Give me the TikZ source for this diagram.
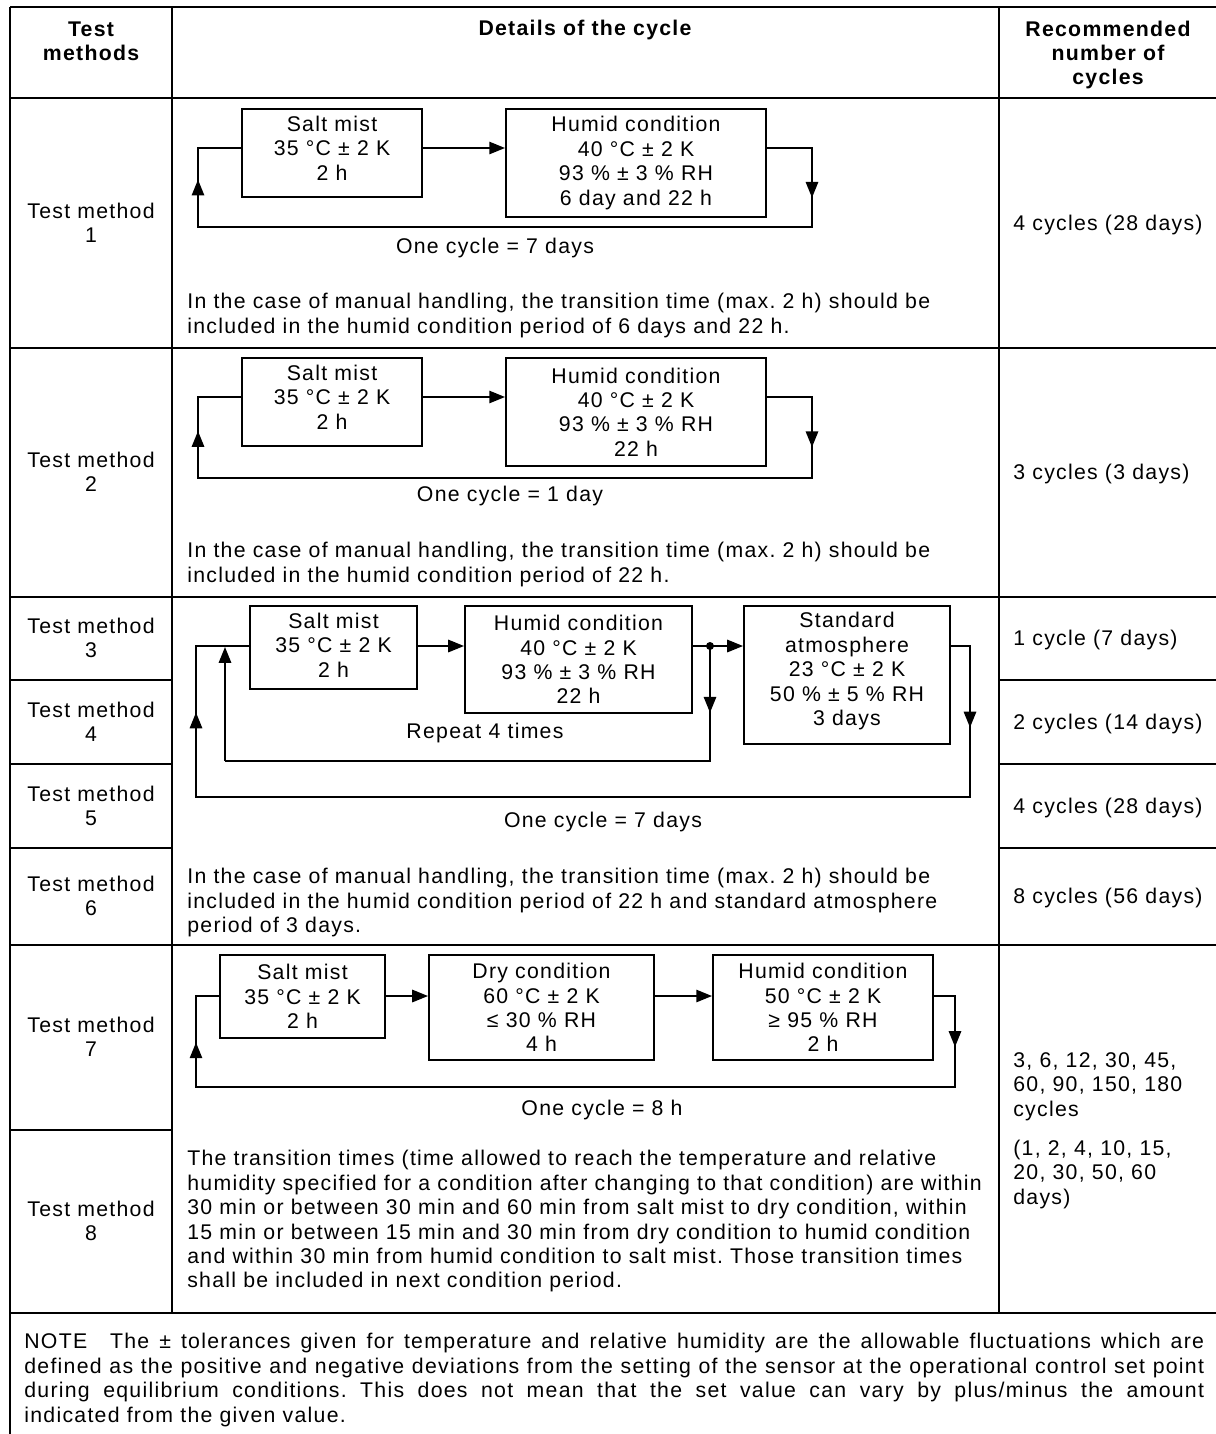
\documentclass[tikz,border=0pt]{standalone}
\usepackage{fontspec}
\setmainfont{Liberation Sans}[LetterSpace=6]
\usetikzlibrary{arrows.meta,calc}
\newcommand{\cellfont}{\fontsize{12.1}{13.9}\selectfont\frenchspacing}
\tikzset{
	rule/.style={line width=1.4pt},
	thinrule/.style={line width=1pt},
	wire/.style={line width=1.1pt},
	flow/.style={line width=1.1pt, -{Triangle[length=9pt,width=7pt]}},
	stage/.style={draw, line width=1.1pt, align=center, inner sep=0pt},
	head/.style={font=\cellfont\bfseries, align=center},
	note/.style={anchor=north west, align=left, inner sep=0pt},
}
\begin{document}
\begin{tikzpicture}[x=0.02cm, y=-0.02cm, font=\cellfont]
	\useasboundingbox[fill=white] (0,0) rectangle (1216,1434);
	% table
	\draw[rule] (10,7) -- (1216,7);
	\draw[rule] (10,7) -- (10,1434);
	\draw[rule] (172,7) -- (172,1313);
	\draw[rule] (999,7) -- (999,1313);
	\foreach \y in {98,348,597,945,1313}
		\draw[rule] (10,\y) -- (1216,\y);
	\foreach \y in {680,764,848} {
		\draw[thinrule] (10,\y) -- (172,\y);
		\draw[thinrule] (999,\y) -- (1216,\y);
	}
	\draw[thinrule] (10,1130) -- (172,1130);
	% header
	\node[head] (hmeth) at (91,41) {Test\\methods};
	\node[head] (hcyc) at (585,30) {Details of the cycle};
	\node[head] (hnum) at (1108,55) {Recommended\\number of\\cycles};
	% test methods
	\node[align=center] (m1) at (91,223) {Test method\\1};
	\node[align=center] (m2) at (91,472) {Test method\\2};
	\node[align=center] (m3) at (91,638) {Test method\\3};
	\node[align=center] (m4) at (91,722) {Test method\\4};
	\node[align=center] (m5) at (91,806) {Test method\\5};
	\node[align=center] (m6) at (91,896) {Test method\\6};
	\node[align=center] (m7) at (91,1037) {Test method\\7};
	\node[align=center] (m8) at (91,1221) {Test method\\8};
	% recommended cycles
	\node[anchor=west, inner sep=0pt] (n1) at (1013,225) {4 cycles (28 days)};
	\node[anchor=west, inner sep=0pt] (n2) at (1013,474) {3 cycles (3 days)};
	\node[anchor=west, inner sep=0pt] (n3) at (1013,640) {1 cycle (7 days)};
	\node[anchor=west, inner sep=0pt] (n4) at (1013,724) {2 cycles (14 days)};
	\node[anchor=west, inner sep=0pt] (n5) at (1013,808) {4 cycles (28 days)};
	\node[anchor=west, inner sep=0pt] (n6) at (1013,898) {8 cycles (56 days)};
	\node[note] (n78) at (1013,1052) {3, 6, 12, 30, 45,\\60, 90, 150, 180\\cycles\\[0.3cm](1, 2, 4, 10, 15,\\20, 30, 50, 60\\days)};

	% test method 1
	\node[stage, minimum width=3.6cm, minimum height=1.76cm, text depth=0.2cm] (salt1) at (332,153) {Salt mist\\35 °C ± 2 K\\2 h};
	\node[stage, minimum width=5.2cm, minimum height=2.16cm] (humid1) at (636,163) {Humid condition\\40 °C ± 2 K\\93 \% ± 3 \% RH\\6 day and 22 h};
	\coordinate (l1) at (198,148);
	\coordinate (r1) at (812,148);
	\coordinate (lb1) at (198,227);
	\coordinate (rb1) at (812,227);
	\draw[flow] (salt1.east |- l1) -- (humid1.west |- l1);
	\draw[wire] (r1) -- (rb1) -- (lb1) -- (l1) -- (salt1.west |- l1);
	\draw[flow] (humid1.east |- r1) -- (r1) -- ($(r1)!0.63!(rb1)$);
	\draw[flow] (lb1) -- ($(lb1)!0.6!(l1)$);
	\node (cyc1) at (495,248) {One cycle = 7 days};
	\node[note] (txt1) at (187,293) {In the case of manual handling, the transition time (max. 2 h) should be\\included in the humid condition period of 6 days and 22 h.};

	% test method 2
	\node[stage, minimum width=3.6cm, minimum height=1.76cm, text depth=0.2cm] (salt2) at (332,402) {Salt mist\\35 °C ± 2 K\\2 h};
	\node[stage, minimum width=5.2cm, minimum height=2.16cm] (humid2) at (636,412) {Humid condition\\40 °C ± 2 K\\93 \% ± 3 \% RH\\22 h};
	\coordinate (l2) at (198,397);
	\coordinate (r2) at (812,397);
	\coordinate (lb2) at (198,478);
	\coordinate (rb2) at (812,478);
	\draw[flow] (salt2.east |- l2) -- (humid2.west |- l2);
	\draw[wire] (r2) -- (rb2) -- (lb2) -- (l2) -- (salt2.west |- l2);
	\draw[flow] (humid2.east |- r2) -- (r2) -- ($(r2)!0.62!(rb2)$);
	\draw[flow] (lb2) -- ($(lb2)!0.58!(l2)$);
	\node (cyc2) at (510,496) {One cycle = 1 day};
	\node[note] (txt2) at (187,542) {In the case of manual handling, the transition time (max. 2 h) should be\\included in the humid condition period of 22 h.};

	% test methods 3 to 6
	\node[stage, minimum width=3.34cm, minimum height=1.66cm, text depth=0.1cm] (salt3) at (333.5,647.5) {Salt mist\\35 °C ± 2 K\\2 h};
	\node[stage, minimum width=4.54cm, minimum height=2.14cm] (humid3) at (578.5,659.5) {Humid condition\\40 °C ± 2 K\\93 \% ± 3 \% RH\\22 h};
	\node[stage, minimum width=4.12cm, minimum height=2.76cm, text depth=0.24cm] (std3) at (847,675) {Standard\\atmosphere\\23 °C ± 2 K\\50 \% ± 5 \% RH\\3 days};
	\coordinate (l3) at (196,646);
	\coordinate (r3) at (970,646);
	\coordinate (lb3) at (196,797);
	\coordinate (rb3) at (970,797);
	\coordinate (j3) at (710,646);
	\coordinate (jb3) at (710,761);
	\coordinate (ib3) at (225,761);
	\coordinate (it3) at (225,647);
	\draw[flow] (salt3.east |- l3) -- (humid3.west |- l3);
	\draw[flow] (humid3.east |- j3) -- (std3.west |- j3);
	\fill (j3) circle (4);
	\draw[wire] (r3) -- (rb3) -- (lb3) -- (l3) -- (salt3.west |- l3);
	\draw[flow] (std3.east |- r3) -- (r3) -- ($(r3)!0.54!(rb3)$);
	\draw[flow] (lb3) -- ($(lb3)!0.56!(l3)$);
	\draw[wire] (j3) -- (jb3) -- (ib3);
	\draw[flow] (j3) -- ($(j3)!0.58!(jb3)$);
	\draw[flow] (ib3) -- (it3);
	\node (rep3) at (485,733) {Repeat 4 times};
	\node (cyc3) at (603,822) {One cycle = 7 days};
	\node[note] (txt3) at (187,868) {In the case of manual handling, the transition time (max. 2 h) should be\\included in the humid condition period of 22 h and standard atmosphere\\period of 3 days.};

	% test methods 7 and 8
	\node[stage, minimum width=3.3cm, minimum height=1.66cm] (salt4) at (302.5,996.5) {Salt mist\\35 °C ± 2 K\\2 h};
	\node[stage, minimum width=4.5cm, minimum height=2.1cm] (dry4) at (541.5,1007.5) {Dry condition\\60 °C ± 2 K\\≤ 30 \% RH\\4 h};
	\node[stage, minimum width=4.4cm, minimum height=2.1cm] (humid4) at (823,1007.5) {Humid condition\\50 °C ± 2 K\\≥ 95 \% RH\\2 h};
	\coordinate (l4) at (196,996);
	\coordinate (r4) at (955,996);
	\coordinate (lb4) at (196,1087);
	\coordinate (rb4) at (955,1087);
	\draw[flow] (salt4.east |- l4) -- (dry4.west |- l4);
	\draw[flow] (dry4.east |- l4) -- (humid4.west |- l4);
	\draw[wire] (r4) -- (rb4) -- (lb4) -- (l4) -- (salt4.west |- l4);
	\draw[flow] (humid4.east |- r4) -- (r4) -- ($(r4)!0.56!(rb4)$);
	\draw[flow] (lb4) -- ($(lb4)!0.49!(l4)$);
	\node (cyc4) at (602,1110) {One cycle = 8 h};
	\node[note] (txt4) at (187,1150) {The transition times (time allowed to reach the temperature and relative\\humidity specified for a condition after changing to that condition) are within\\30 min or between 30 min and 60 min from salt mist to dry condition, within\\15 min or between 15 min and 30 min from dry condition to humid condition\\and within 30 min from humid condition to salt mist. Those transition times\\shall be included in next condition period.};

	% note
	\node[anchor=north west, inner sep=0pt, text width=23.6cm, align=justify] (note) at (24,1333) {NOTE\hspace{0.6em} The ± tolerances given for temperature and relative humidity are the allowable fluctuations which are\linebreak defined as the positive and negative deviations from the setting of the sensor at the operational control set point\linebreak during equilibrium conditions. This does not mean that the set value can vary by plus/minus the amount\linebreak indicated from the given value.};
\end{tikzpicture}
\end{document}
